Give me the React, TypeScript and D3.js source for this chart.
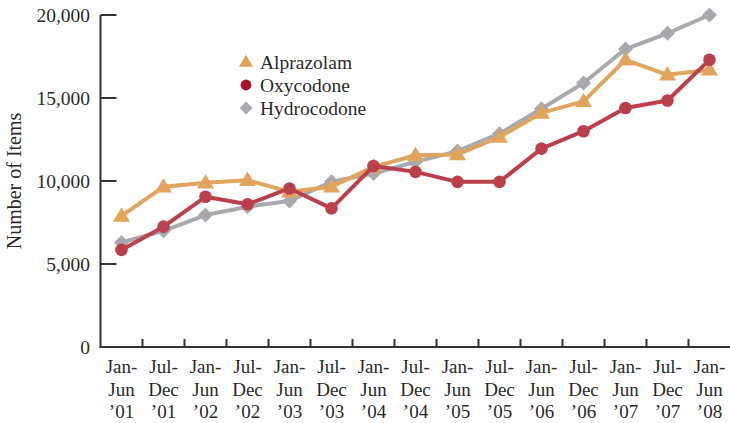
import React from "react";
import * as d3 from "d3";

const categories = [
  ["Jan-", "Jun", "\u201901"],
  ["Jul-", "Dec", "\u201901"],
  ["Jan-", "Jun", "\u201902"],
  ["Jul-", "Dec", "\u201902"],
  ["Jan-", "Jun", "\u201903"],
  ["Jul-", "Dec", "\u201903"],
  ["Jan-", "Jun", "\u201904"],
  ["Jul-", "Dec", "\u201904"],
  ["Jan-", "Jun", "\u201905"],
  ["Jul-", "Dec", "\u201905"],
  ["Jan-", "Jun", "\u201906"],
  ["Jul-", "Dec", "\u201906"],
  ["Jan-", "Jun", "\u201907"],
  ["Jul-", "Dec", "\u201907"],
  ["Jan-", "Jun", "\u201908"],
];

const alprazolam = [7900, 9650, 9900, 10050, 9350, 9650, 10850, 11550, 11600, 12650, 14100, 14800, 17300, 16400, 16700];
const oxycodone = [5850, 7250, 9050, 8600, 9550, 8350, 10900, 10550, 9950, 9950, 11950, 13000, 14400, 14850, 17300];
const hydrocodone = [6300, 7000, 7950, 8450, 8800, 9950, 10450, 11150, 11800, 12850, 14350, 15900, 17950, 18900, 20000];

const yTicks = [0, 5000, 10000, 15000, 20000];

const W = 730;
const H = 423;
const FONT = "'Liberation Serif', 'Times New Roman', serif";
const TEXT = "#2a2a2a";
const AXIS = "#333";

const series = [
  { name: "Alprazolam", values: alprazolam, color: "#E2A45C", legend: "#E2A45C", shape: "triangle" },
  { name: "Oxycodone", values: oxycodone, color: "#BC404C", legend: "#A8142E", shape: "circle" },
  { name: "Hydrocodone", values: hydrocodone, color: "#A8A9AC", legend: "#A8A9AC", shape: "diamond" },
];

function Marker({ shape, x, y, color, size }: { shape: string; x: number; y: number; color: string; size: number }) {
  if (shape === "circle") return <circle cx={x} cy={y} r={size * 0.42} fill={color} />;
  if (shape === "triangle") {
    const s = size;
    const h = s * 0.85;
    return (
      <path
        d={`M${x},${y - h * 0.6} L${x + s / 2},${y + h * 0.4} L${x - s / 2},${y + h * 0.4} Z`}
        fill={color}
      />
    );
  }
  const r = size * 0.5;
  return <path d={`M${x},${y - r} L${x + r},${y} L${x},${y + r} L${x - r},${y} Z`} fill={color} />;
}

export default function App() {
  const left = 100.5;
  const right = 730.5;
  const x = d3.scaleBand<number>().domain(d3.range(categories.length)).range([left, right]).padding(0);
  const y = d3.scaleLinear().domain([0, 20000]).range([347, 15]);
  const fmt = d3.format(",");
  const line = (vals: number[]) =>
    d3
      .line<number>()
      .x((_, i) => x(i)! + x.bandwidth() / 2)
      .y((v) => y(v))(vals) || "";

  const drawOrder = [series[2], series[0], series[1]];

  return (
    <svg
      width={W}
      height={H}
      style={{ position: "absolute", left: 0, top: 0, background: "#fff" }}
      fontFamily={FONT}
    >
      {/* axes */}
      <line x1={left} x2={left} y1={y(20000)} y2={y(0) + 1} stroke={AXIS} strokeWidth={2} />
      <line x1={left - 1} x2={W} y1={y(0)} y2={y(0)} stroke={AXIS} strokeWidth={2} />
      {yTicks.map((t) => (
        <g key={t}>
          {t > 0 && <line x1={left} x2={left + 16} y1={y(t)} y2={y(t)} stroke={AXIS} strokeWidth={2} />}
          <text x={90} y={y(t)} dy="0.35em" textAnchor="end" fontSize={19.5} fill={TEXT}>
            {fmt(t)}
          </text>
        </g>
      ))}
      {categories.map((c, i) =>
        i > 0 ? (
          <line key={"t" + i} x1={x(i)!} x2={x(i)!} y1={y(0)} y2={y(0) - 8} stroke={AXIS} strokeWidth={2} />
        ) : null
      )}
      {categories.map((c, i) => (
        <text key={"l" + i} x={x(i)! + x.bandwidth() / 2} textAnchor="middle" fontSize={19} fill={TEXT}>
          {c.map((s, j) => (
            <tspan key={j} x={x(i)! + x.bandwidth() / 2} y={373 + j * 22.5}>
              {s}
            </tspan>
          ))}
        </text>
      ))}
      <text
        transform={`translate(21,181) rotate(-90)`}
        textAnchor="middle"
        fontSize={20}
        fill={TEXT}
      >
        Number of Items
      </text>

      {/* lines */}
      {drawOrder.map((s) => (
        <g key={s.name}>
          <path d={line(s.values)} fill="none" stroke={s.color} strokeWidth={4} strokeLinejoin="round" />
          {s.values.map((v, i) => (
            <Marker key={i} shape={s.shape} x={x(i)! + x.bandwidth() / 2} y={y(v)} color={s.color} size={s.shape === "triangle" ? 17 : 15} />
          ))}
        </g>
      ))}

      {/* legend */}
      {series.map((s, i) => (
        <g key={"lg" + s.name}>
          <Marker shape={s.shape} x={246} y={62 + i * 23} color={s.legend} size={s.shape === "triangle" ? 14 : 13} />
          <text x={260} y={62 + i * 23} dy="0.35em" fontSize={19.5} fill={TEXT}>
            {s.name}
          </text>
        </g>
      ))}
    </svg>
  );
}
